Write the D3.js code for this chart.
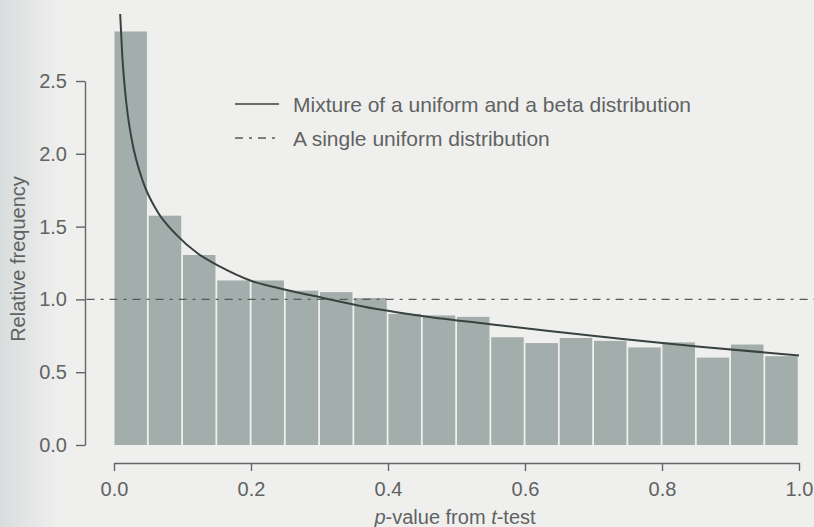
<!DOCTYPE html>
<html>
<head>
<meta charset="utf-8">
<script src="https://cdn.jsdelivr.net/npm/d3@7"></script>
<style>
  html, body { margin: 0; padding: 0; background: #efefee; }
  svg { display: block; }
  text { font-family: "Liberation Sans", Arial, sans-serif; fill: #5f6362; }
</style>
</head>
<body>
<div id="chart"></div>
<script>
// ── Data ─────────────────────────────────────────────────────────────────
const binStarts = [0.00, 0.05, 0.10, 0.15, 0.20, 0.25, 0.30, 0.35, 0.40, 0.45,
                   0.50, 0.55, 0.60, 0.65, 0.70, 0.75, 0.80, 0.85, 0.90, 0.95];
const binWidth = 0.05;
const relFreq = [2.84, 1.575, 1.305, 1.13, 1.13, 1.06, 1.05, 1.01, 0.90, 0.89,
                 0.88, 0.74, 0.70, 0.735, 0.715, 0.67, 0.705, 0.60, 0.69, 0.61];

// fitted mixture curve
const curveX = [0.009, 0.012, 0.016, 0.020, 0.026, 0.043, 0.062, 0.092, 0.121, 0.155,
                0.199, 0.247, 0.286, 0.388, 0.452, 0.549, 0.632, 0.739, 0.855, 1.0];
const curveY = [2.96, 2.68, 2.44, 2.27, 2.095, 1.80, 1.614, 1.44, 1.32, 1.225,
                1.13, 1.07, 1.03, 0.93, 0.885, 0.83, 0.785, 0.73, 0.675, 0.615];

const uniformLevel = 1.0;
const xTicks = [0, 0.2, 0.4, 0.6, 0.8, 1.0];
const yTicks = [0, 0.5, 1.0, 1.5, 2.0, 2.5];
const legendLabels = ["Mixture of a uniform and a beta distribution",
                      "A single uniform distribution"];

// ── SVG ──────────────────────────────────────────────────────────────────
const W = 814, H = 527;
const svg = d3.select("#chart").append("svg")
  .attr("width", W).attr("height", H);

// scanned-page shading on the left edge
const grad = svg.append("defs").append("linearGradient")
  .attr("id", "edge").attr("x1", 0).attr("x2", 1);
grad.append("stop").attr("offset", 0).attr("stop-color", "#d9dddd");
grad.append("stop").attr("offset", 1).attr("stop-color", "#efefee");
svg.append("rect").attr("width", W).attr("height", H).attr("fill", "#efefee");
svg.append("rect").attr("width", 60).attr("height", H).attr("fill", "url(#edge)");

// ── Scales ───────────────────────────────────────────────────────────────
const x = d3.scaleLinear().domain([0, 1]).range([114, 799]);
const y = d3.scaleLinear().domain([0, 2.5]).range([445, 81]);

// ── Bars ─────────────────────────────────────────────────────────────────
svg.append("g")
  .selectAll("rect")
  .data(binStarts)
  .join("rect")
  .attr("x", d => x(d) + 0.5)
  .attr("width", d => x(d + binWidth) - x(d) - 1.8)
  .attr("y", (d, i) => y(relFreq[i]))
  .attr("height", (d, i) => y(0) - y(relFreq[i]))
  .attr("fill", "#a3adab");

// ── Uniform line ─────────────────────────────────────────────────────────
svg.append("line")
  .attr("x1", x(-0.04)).attr("x2", W)
  .attr("y1", y(uniformLevel)).attr("y2", y(uniformLevel))
  .attr("stroke", "#555b59").attr("stroke-width", 1.3)
  .attr("stroke-dasharray", "8,6,3,6");

// ── Mixture curve ────────────────────────────────────────────────────────
const line = d3.line()
  .x((d, i) => x(curveX[i]))
  .y(d => y(d))
  .curve(d3.curveMonotoneX);

svg.append("path")
  .datum(curveY)
  .attr("d", line)
  .attr("fill", "none")
  .attr("stroke", "#38423e")
  .attr("stroke-width", 2);

// ── Axes ─────────────────────────────────────────────────────────────────
const yAxis = svg.append("g")
  .attr("transform", "translate(85,0)")
  .call(d3.axisLeft(y).tickValues(yTicks).tickFormat(d3.format(".1f"))
    .tickSize(9).tickSizeOuter(0).tickPadding(9));

const xAxis = svg.append("g")
  .attr("transform", "translate(0,463)")
  .call(d3.axisBottom(x).tickValues(xTicks).tickFormat(d3.format(".1f"))
    .tickSize(8).tickSizeOuter(0).tickPadding(11));

[yAxis, xAxis].forEach(a => {
  a.selectAll("path, line").attr("stroke", "#626665").attr("stroke-width", 1.4);
  a.selectAll("text").style("font-size", "20px")
    .style("font-family", "'Liberation Sans', Arial, sans-serif")
    .attr("fill", "#6a6e6d");
});

// ── Axis labels ──────────────────────────────────────────────────────────
svg.append("text")
  .attr("transform", "translate(25,259) rotate(-90)")
  .attr("text-anchor", "middle")
  .style("font-size", "20px")
  .text("Relative frequency");

const xl = svg.append("text")
  .attr("x", 455).attr("y", 524)
  .attr("text-anchor", "middle")
  .style("font-size", "20px");
xl.append("tspan").style("font-style", "italic").text("p");
xl.append("tspan").text("-value from ");
xl.append("tspan").style("font-style", "italic").text("t");
xl.append("tspan").text("-test");

// ── Legend ───────────────────────────────────────────────────────────────
const legend = svg.append("g");
legendLabels.forEach((lab, i) => {
  const ly = [104, 138][i];
  legend.append("line")
    .attr("x1", 235).attr("x2", 279)
    .attr("y1", ly).attr("y2", ly)
    .attr("stroke", i === 0 ? "#38423e" : "#555b59")
    .attr("stroke-width", i === 0 ? 1.6 : 1.3)
    .attr("stroke-dasharray", i === 0 ? null : "8,6,3,6");
  legend.append("text")
    .attr("x", 293).attr("y", ly + 8)
    .style("font-size", "21px")
    .text(lab);
});
</script>
</body>
</html>
